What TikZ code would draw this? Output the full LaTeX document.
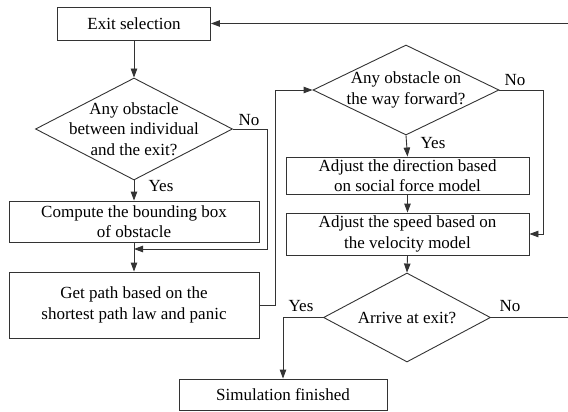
\documentclass[tikz,border=0pt]{standalone}
\usepackage{fontspec}
\setmainfont{Liberation Serif}
\usetikzlibrary{shapes.geometric,arrows.meta}
\begin{document}
\begin{tikzpicture}[x=1pt,y=-1pt,
  conn/.style={draw=black!80, line width=0.9pt},
  box/.style={draw=black!80, line width=0.9pt, rectangle, inner sep=0pt, align=center},
  dia/.style={draw=black!80, line width=0.9pt, diamond, inner sep=0pt},
  arr/.style={conn, -{Triangle[length=9pt,width=6.5pt]}},
  lbl/.style={inner sep=1pt},
  font=\fontsize{17}{20.5}\selectfont]
\useasboundingbox (0,0) rectangle (568,412);

\node[box, minimum width=153pt, minimum height=33pt] (exit) at (134,23.5) {Exit selection};
\node[dia, minimum width=197pt, minimum height=102pt,
  label={[align=center]center:Any obstacle\\between individual\\and the exit?}] (d1) at (134,129) {};
\node[box, minimum width=250pt, minimum height=41pt] (comp) at (134,221.5) {Compute the bounding box\\of obstacle};
\node[box, minimum width=250pt, minimum height=66pt] (gp) at (134,305) {Get path based on the\\shortest path law and panic};
\node[dia, minimum width=186pt, minimum height=90pt,
  label={[align=center]center:Any obstacle on\\the way forward?}] (d2) at (406,90) {};
\node[box, minimum width=243pt, minimum height=37pt] (dir) at (407.5,175.5) {Adjust the direction based\\on social force model};
\node[box, minimum width=243pt, minimum height=42pt] (speed) at (407.5,234) {Adjust the speed based on\\the velocity model};
\node[dia, minimum width=167pt, minimum height=89pt,
  label={[align=center]center:Arrive at exit?}] (d3) at (407,317.5) {};
\node[box, minimum width=208pt, minimum height=31pt] (sim) at (283,394.5) {Simulation finished};

\coordinate (j1) at (134,249);
\coordinate (e1) at (568,317.5);
\coordinate (e2) at (568,23.5);

\draw[arr] (exit.south) -- (d1.north);
\draw[arr] (d1.south) -- (comp.north);
\node[lbl] (yes1) at (161,186) {Yes};
\draw[arr] (comp.south) -- (gp.north);
\draw[arr] (d1.east) -| (267,249) -- (j1);
\node[lbl] (no1) at (249,120) {No};
\draw[arr] (gp.east) -- ++(16,0) |- (d2.west);
\draw[arr] (d2.south) -- (dir.north);
\node[lbl] (yes2) at (433,143) {Yes};
\draw[arr] (d2.east) -- ++(44,0) |- (speed.east);
\node[lbl] (no2) at (515,80) {No};
\draw[arr] (dir.south) -- (speed.north);
\draw[arr] (speed.south) -- (d3.north);
\draw[conn] (d3.east) -- (e1);
\node[lbl] (no3) at (510,306) {No};
\draw[arr] (d3.west) -| (sim.north);
\node[lbl] (yes3) at (301,306) {Yes};
\draw[arr] (e2) -- (exit.east);
\end{tikzpicture}
\end{document}
